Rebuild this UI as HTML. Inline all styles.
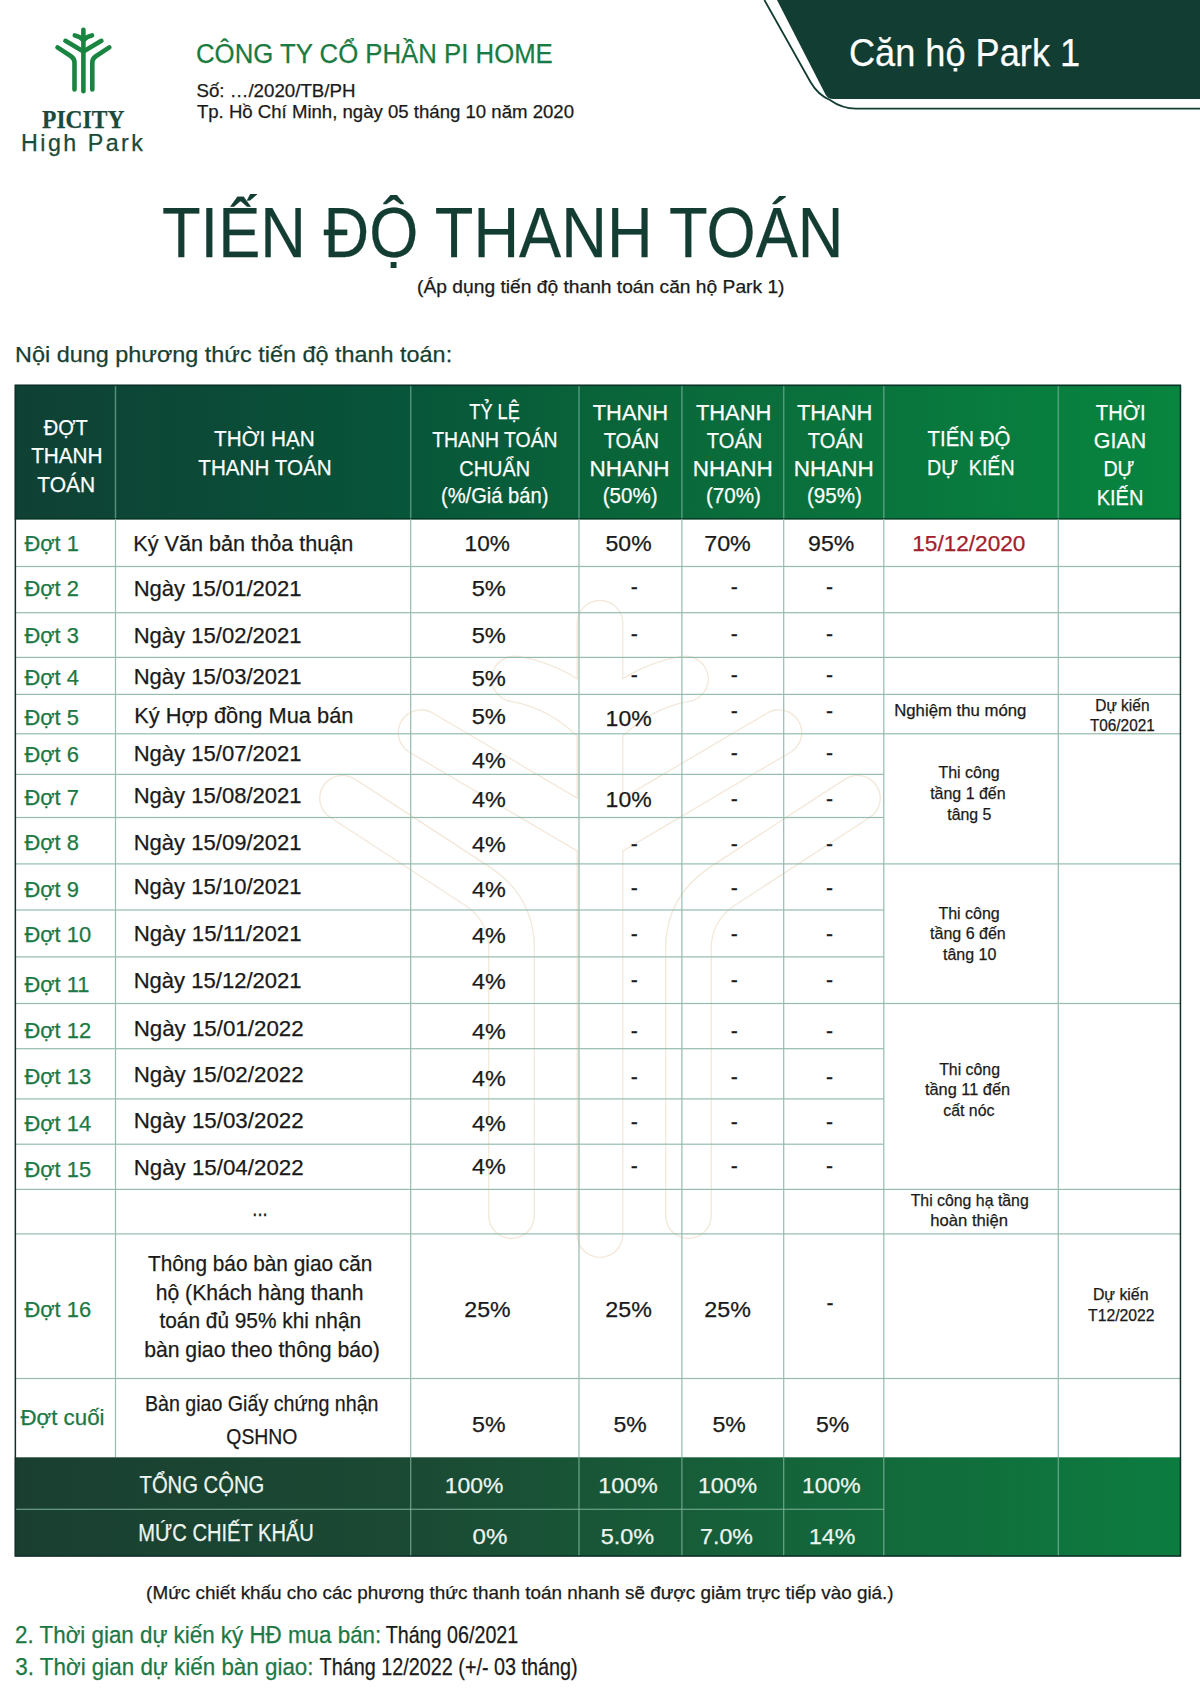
<!DOCTYPE html>
<html lang="vi"><head><meta charset="utf-8"><title>Tiến độ thanh toán - Căn hộ Park 1</title>
<style>
html,body{margin:0;padding:0;background:#fff;}
body{width:1200px;height:1696px;overflow:hidden;}
svg{display:block;}
text{font-family:"Liberation Sans", sans-serif;}
</style></head><body>
<svg width="1200" height="1696" viewBox="0 0 1200 1696">
<defs>
<linearGradient id="gh" x1="15" y1="0" x2="1181" y2="0" gradientUnits="userSpaceOnUse">
<stop offset="0" stop-color="#0f4134"/><stop offset="0.1" stop-color="#0d4636"/><stop offset="0.33" stop-color="#07553a"/><stop offset="0.5" stop-color="#096439"/><stop offset="0.66" stop-color="#0a6f3c"/><stop offset="0.85" stop-color="#087c3e"/><stop offset="1" stop-color="#08853f"/>
</linearGradient>
<linearGradient id="gf" x1="15" y1="0" x2="1181" y2="0" gradientUnits="userSpaceOnUse">
<stop offset="0" stop-color="#1a3f31"/><stop offset="0.35" stop-color="#1b4a34"/><stop offset="0.65" stop-color="#15633a"/><stop offset="1" stop-color="#0c7c3f"/>
</linearGradient>
</defs>
<rect width="1200" height="1696" fill="#ffffff"/>
<!-- watermark -->
<g transform="translate(-229.0,327.05) scale(9.94)" fill="none" stroke-linecap="round" stroke-linejoin="round">
<g stroke="#f3e8da" stroke-width="4.72"><path d="M83.4,29.8 L83.4,91.3"/><path d="M74.8,35.4 Q79.6,36.2 83.4,40.2 Q87.2,36.2 92,35.4"/><path d="M65.4,40.8 L83.4,51.4 L101.4,40.8"/><path d="M57.5,47.4 L71,56.2 Q74.5,58.5 74.5,62.5 L74.5,89.4"/><path d="M109.3,47.4 L95.8,56.2 Q92.3,58.5 92.3,62.5 L92.3,89.4"/></g>
<g stroke="#ffffff" stroke-width="4.45"><path d="M83.4,29.8 L83.4,91.3"/><path d="M74.8,35.4 Q79.6,36.2 83.4,40.2 Q87.2,36.2 92,35.4"/><path d="M65.4,40.8 L83.4,51.4 L101.4,40.8"/><path d="M57.5,47.4 L71,56.2 Q74.5,58.5 74.5,62.5 L74.5,89.4"/><path d="M109.3,47.4 L95.8,56.2 Q92.3,58.5 92.3,62.5 L92.3,89.4"/></g>
</g>
<!-- top-right badge -->
<path d="M764.4,0 L810.5,82 Q818,95 830,100 Q842,108.6 856,108.6 L1200,108.6" fill="none" stroke="#123d33" stroke-width="1.8"/>
<path d="M777,0 L1200,0 L1200,99 L833,99 Q828,99 825.5,94.5 Z" fill="#123d33"/>
<!-- logo -->
<g fill="none" stroke="#1a8441" stroke-width="4.6" stroke-linecap="round" stroke-linejoin="round"><path d="M83.4,29.8 L83.4,91.3"/><path d="M74.8,35.4 Q79.6,36.2 83.4,40.2 Q87.2,36.2 92,35.4"/><path d="M65.4,40.8 L83.4,51.4 L101.4,40.8"/><path d="M57.5,47.4 L71,56.2 Q74.5,58.5 74.5,62.5 L74.5,89.4"/><path d="M109.3,47.4 L95.8,56.2 Q92.3,58.5 92.3,62.5 L92.3,89.4"/></g>
<!-- table header -->
<rect x="14.75" y="384.75" width="1166.3" height="134.5" fill="url(#gh)"/>
<rect x="114.75" y="385.5" width="1.5" height="133" fill="#6aa892" fill-opacity="0.75"/><rect x="409.95" y="385.5" width="1.5" height="133" fill="#6aa892" fill-opacity="0.75"/><rect x="578.25" y="385.5" width="1.5" height="133" fill="#6aa892" fill-opacity="0.75"/><rect x="681.15" y="385.5" width="1.5" height="133" fill="#6aa892" fill-opacity="0.75"/><rect x="782.95" y="385.5" width="1.5" height="133" fill="#6aa892" fill-opacity="0.75"/><rect x="883.05" y="385.5" width="1.5" height="133" fill="#6aa892" fill-opacity="0.75"/><rect x="1057.55" y="385.5" width="1.5" height="133" fill="#6aa892" fill-opacity="0.75"/>
<rect x="14.75" y="518.3" width="1166.3" height="1.2" fill="#05301f"/>
<!-- grid -->
<rect x="15.25" y="565.90" width="1165.05" height="1.2" fill="#95bcae"/><rect x="15.25" y="612.10" width="1165.05" height="1.2" fill="#95bcae"/><rect x="15.25" y="656.80" width="1165.05" height="1.2" fill="#95bcae"/><rect x="15.25" y="693.80" width="1165.05" height="1.2" fill="#95bcae"/><rect x="15.25" y="733.20" width="1165.05" height="1.2" fill="#95bcae"/><rect x="15.25" y="773.80" width="868.55" height="1.2" fill="#95bcae"/><rect x="15.25" y="816.90" width="868.55" height="1.2" fill="#95bcae"/><rect x="15.25" y="863.30" width="1165.05" height="1.2" fill="#95bcae"/><rect x="15.25" y="909.40" width="868.55" height="1.2" fill="#95bcae"/><rect x="15.25" y="956.30" width="868.55" height="1.2" fill="#95bcae"/><rect x="15.25" y="1002.90" width="1165.05" height="1.2" fill="#95bcae"/><rect x="15.25" y="1048.10" width="868.55" height="1.2" fill="#95bcae"/><rect x="15.25" y="1098.30" width="868.55" height="1.2" fill="#95bcae"/><rect x="15.25" y="1143.60" width="868.55" height="1.2" fill="#95bcae"/><rect x="15.25" y="1188.80" width="1165.05" height="1.2" fill="#95bcae"/><rect x="15.25" y="1233.30" width="1165.05" height="1.2" fill="#95bcae"/><rect x="15.25" y="1377.90" width="1165.05" height="1.2" fill="#95bcae"/><rect x="114.90" y="519" width="1.2" height="938.30" fill="#95bcae"/><rect x="410.10" y="519" width="1.2" height="938.30" fill="#95bcae"/><rect x="578.40" y="519" width="1.2" height="938.30" fill="#95bcae"/><rect x="681.30" y="519" width="1.2" height="938.30" fill="#95bcae"/><rect x="783.10" y="519" width="1.2" height="938.30" fill="#95bcae"/><rect x="883.20" y="519" width="1.2" height="938.30" fill="#95bcae"/><rect x="1057.70" y="519" width="1.2" height="938.30" fill="#95bcae"/>
<!-- footer -->
<rect x="14.75" y="1457.3" width="1166.3" height="99.2" fill="url(#gf)"/>
<rect x="410.10" y="1457.3" width="1.2" height="99" fill="#7fb59e" fill-opacity="0.8"/><rect x="578.40" y="1457.3" width="1.2" height="99" fill="#7fb59e" fill-opacity="0.8"/><rect x="681.30" y="1457.3" width="1.2" height="99" fill="#7fb59e" fill-opacity="0.8"/><rect x="783.10" y="1457.3" width="1.2" height="99" fill="#7fb59e" fill-opacity="0.8"/><rect x="883.20" y="1457.3" width="1.2" height="99" fill="#7fb59e" fill-opacity="0.8"/><rect x="1057.70" y="1457.3" width="1.2" height="99" fill="#7fb59e" fill-opacity="0.8"/><rect x="15.25" y="1508.7" width="868.55" height="1.2" fill="#7fb59e" fill-opacity="0.8"/>
<!-- outer border -->
<rect x="15.35" y="385.35" width="1165.1" height="1170.6" fill="none" stroke="#10302a" stroke-width="1.5"/>
<!-- texts -->
<g font-family="'Liberation Sans', sans-serif" stroke-width="0.25">
<text x="196.00" y="63.30" fill="#1a7b40" stroke="#1a7b40" style="font-size:27.62px" textLength="356.81" lengthAdjust="spacingAndGlyphs">CÔNG TY CỔ PHẦN PI HOME</text>
<text x="196.45" y="96.70" fill="#1a1a1a" stroke="#1a1a1a" style="font-size:18.60px" textLength="159.08" lengthAdjust="spacingAndGlyphs">Số: …/2020/TB/PH</text>
<text x="196.88" y="117.50" fill="#1a1a1a" stroke="#1a1a1a" style="font-size:18.60px" textLength="377.14" lengthAdjust="spacingAndGlyphs">Tp. Hồ Chí Minh, ngày 05 tháng 10 năm 2020</text>
<text x="42.10" y="127.80" fill="#1b4a38" stroke="#1b4a38" style="font-size:24.13px;font-family:'Liberation Serif';font-weight:bold" textLength="82.35" lengthAdjust="spacingAndGlyphs">PICITY</text>
<text x="21.09" y="150.80" fill="#1b4a38" stroke="#1b4a38" style="font-size:23.26px;letter-spacing:2.47px">High Park</text>
<text x="848.96" y="66.20" fill="#ffffff" stroke="#ffffff" style="font-size:39.24px" textLength="231.20" lengthAdjust="spacingAndGlyphs">Căn hộ Park 1</text>
<text x="161.98" y="257.40" fill="#133d32" stroke="#133d32" style="font-size:71.22px" textLength="681.55" lengthAdjust="spacingAndGlyphs">TIẾN ĐỘ THANH TOÁN</text>
<text x="417.11" y="292.70" fill="#1a1a1a" stroke="#1a1a1a" style="font-size:17.44px" textLength="367.38" lengthAdjust="spacingAndGlyphs">(Áp dụng tiến độ thanh toán căn hộ Park 1)</text>
<text x="15.08" y="361.50" fill="#173f31" stroke="#173f31" style="font-size:22.53px" textLength="437.06" lengthAdjust="spacingAndGlyphs">Nội dung phương thức tiến độ thanh toán:</text>
<text x="43.76" y="435.00" fill="#ffffff" stroke="#ffffff" style="font-size:22.67px" textLength="44.00" lengthAdjust="spacingAndGlyphs">ĐỢT</text>
<text x="31.13" y="463.40" fill="#ffffff" stroke="#ffffff" style="font-size:22.67px" textLength="71.46" lengthAdjust="spacingAndGlyphs">THANH</text>
<text x="37.23" y="491.90" fill="#ffffff" stroke="#ffffff" style="font-size:22.67px" textLength="57.88" lengthAdjust="spacingAndGlyphs">TOÁN</text>
<text x="214.03" y="446.25" fill="#ffffff" stroke="#ffffff" style="font-size:22.67px" textLength="100.66" lengthAdjust="spacingAndGlyphs">THỜI HẠN</text>
<text x="198.29" y="474.50" fill="#ffffff" stroke="#ffffff" style="font-size:22.67px" textLength="133.39" lengthAdjust="spacingAndGlyphs">THANH TOÁN</text>
<text x="469.29" y="419.00" fill="#ffffff" stroke="#ffffff" style="font-size:22.67px" textLength="50.49" lengthAdjust="spacingAndGlyphs">TỶ LỆ</text>
<text x="432.27" y="447.30" fill="#ffffff" stroke="#ffffff" style="font-size:22.67px" textLength="125.31" lengthAdjust="spacingAndGlyphs">THANH TOÁN</text>
<text x="459.29" y="476.20" fill="#ffffff" stroke="#ffffff" style="font-size:22.67px" textLength="70.73" lengthAdjust="spacingAndGlyphs">CHUẨN</text>
<text x="440.95" y="503.00" fill="#ffffff" stroke="#ffffff" style="font-size:22.67px" textLength="107.50" lengthAdjust="spacingAndGlyphs">(%/Giá bán)</text>
<text x="592.71" y="420.00" fill="#ffffff" stroke="#ffffff" style="font-size:22.67px" textLength="75.48" lengthAdjust="spacingAndGlyphs">THANH</text>
<text x="603.65" y="447.80" fill="#ffffff" stroke="#ffffff" style="font-size:22.67px" textLength="55.49" lengthAdjust="spacingAndGlyphs">TOÁN</text>
<text x="589.55" y="476.40" fill="#ffffff" stroke="#ffffff" style="font-size:22.67px" textLength="79.98" lengthAdjust="spacingAndGlyphs">NHANH</text>
<text x="602.72" y="503.00" fill="#ffffff" stroke="#ffffff" style="font-size:22.67px" textLength="54.85" lengthAdjust="spacingAndGlyphs">(50%)</text>
<text x="695.91" y="420.00" fill="#ffffff" stroke="#ffffff" style="font-size:22.67px" textLength="75.48" lengthAdjust="spacingAndGlyphs">THANH</text>
<text x="706.85" y="447.80" fill="#ffffff" stroke="#ffffff" style="font-size:22.67px" textLength="55.49" lengthAdjust="spacingAndGlyphs">TOÁN</text>
<text x="692.75" y="476.40" fill="#ffffff" stroke="#ffffff" style="font-size:22.67px" textLength="79.98" lengthAdjust="spacingAndGlyphs">NHANH</text>
<text x="705.92" y="503.00" fill="#ffffff" stroke="#ffffff" style="font-size:22.67px" textLength="54.85" lengthAdjust="spacingAndGlyphs">(70%)</text>
<text x="796.91" y="420.00" fill="#ffffff" stroke="#ffffff" style="font-size:22.67px" textLength="75.48" lengthAdjust="spacingAndGlyphs">THANH</text>
<text x="807.85" y="447.80" fill="#ffffff" stroke="#ffffff" style="font-size:22.67px" textLength="55.49" lengthAdjust="spacingAndGlyphs">TOÁN</text>
<text x="793.75" y="476.40" fill="#ffffff" stroke="#ffffff" style="font-size:22.67px" textLength="79.98" lengthAdjust="spacingAndGlyphs">NHANH</text>
<text x="806.92" y="503.00" fill="#ffffff" stroke="#ffffff" style="font-size:22.67px" textLength="54.85" lengthAdjust="spacingAndGlyphs">(95%)</text>
<text x="927.54" y="446.30" fill="#ffffff" stroke="#ffffff" style="font-size:22.67px" textLength="82.84" lengthAdjust="spacingAndGlyphs">TIẾN ĐỘ</text>
<text xml:space="preserve" x="927.09" y="474.80" fill="#ffffff" stroke="#ffffff" style="font-size:22.67px" textLength="87.51" lengthAdjust="spacingAndGlyphs">DỰ  KIẾN</text>
<text x="1095.85" y="419.50" fill="#ffffff" stroke="#ffffff" style="font-size:22.67px" textLength="49.71" lengthAdjust="spacingAndGlyphs">THỜI</text>
<text x="1093.82" y="448.00" fill="#ffffff" stroke="#ffffff" style="font-size:22.67px" textLength="52.32" lengthAdjust="spacingAndGlyphs">GIAN</text>
<text x="1103.38" y="476.40" fill="#ffffff" stroke="#ffffff" style="font-size:22.67px" textLength="31.03" lengthAdjust="spacingAndGlyphs">DỰ</text>
<text x="1096.66" y="504.90" fill="#ffffff" stroke="#ffffff" style="font-size:22.67px" textLength="46.67" lengthAdjust="spacingAndGlyphs">KIẾN</text>
<text x="24.45" y="550.70" fill="#1c7844" stroke="#1c7844" style="font-size:22.24px" textLength="54.49" lengthAdjust="spacingAndGlyphs">Đợt 1</text>
<text x="24.45" y="596.20" fill="#1c7844" stroke="#1c7844" style="font-size:22.24px" textLength="54.49" lengthAdjust="spacingAndGlyphs">Đợt 2</text>
<text x="24.45" y="642.80" fill="#1c7844" stroke="#1c7844" style="font-size:22.24px" textLength="54.49" lengthAdjust="spacingAndGlyphs">Đợt 3</text>
<text x="24.45" y="685.40" fill="#1c7844" stroke="#1c7844" style="font-size:22.24px" textLength="54.49" lengthAdjust="spacingAndGlyphs">Đợt 4</text>
<text x="24.45" y="724.50" fill="#1c7844" stroke="#1c7844" style="font-size:22.24px" textLength="54.49" lengthAdjust="spacingAndGlyphs">Đợt 5</text>
<text x="24.45" y="762.00" fill="#1c7844" stroke="#1c7844" style="font-size:22.24px" textLength="54.49" lengthAdjust="spacingAndGlyphs">Đợt 6</text>
<text x="24.45" y="805.00" fill="#1c7844" stroke="#1c7844" style="font-size:22.24px" textLength="54.49" lengthAdjust="spacingAndGlyphs">Đợt 7</text>
<text x="24.45" y="849.80" fill="#1c7844" stroke="#1c7844" style="font-size:22.24px" textLength="54.49" lengthAdjust="spacingAndGlyphs">Đợt 8</text>
<text x="24.45" y="896.60" fill="#1c7844" stroke="#1c7844" style="font-size:22.24px" textLength="54.49" lengthAdjust="spacingAndGlyphs">Đợt 9</text>
<text x="24.45" y="941.90" fill="#1c7844" stroke="#1c7844" style="font-size:22.24px" textLength="66.66" lengthAdjust="spacingAndGlyphs">Đợt 10</text>
<text x="24.45" y="991.80" fill="#1c7844" stroke="#1c7844" style="font-size:22.24px" textLength="65.04" lengthAdjust="spacingAndGlyphs">Đợt 11</text>
<text x="24.45" y="1037.80" fill="#1c7844" stroke="#1c7844" style="font-size:22.24px" textLength="66.66" lengthAdjust="spacingAndGlyphs">Đợt 12</text>
<text x="24.45" y="1083.70" fill="#1c7844" stroke="#1c7844" style="font-size:22.24px" textLength="66.66" lengthAdjust="spacingAndGlyphs">Đợt 13</text>
<text x="24.45" y="1130.70" fill="#1c7844" stroke="#1c7844" style="font-size:22.24px" textLength="66.66" lengthAdjust="spacingAndGlyphs">Đợt 14</text>
<text x="24.45" y="1177.10" fill="#1c7844" stroke="#1c7844" style="font-size:22.24px" textLength="66.66" lengthAdjust="spacingAndGlyphs">Đợt 15</text>
<text x="24.45" y="1316.70" fill="#1c7844" stroke="#1c7844" style="font-size:22.24px" textLength="66.66" lengthAdjust="spacingAndGlyphs">Đợt 16</text>
<text x="20.45" y="1425.40" fill="#1c7844" stroke="#1c7844" style="font-size:22.24px" textLength="84.06" lengthAdjust="spacingAndGlyphs">Đợt cuối</text>
<text x="133.22" y="551.25" fill="#1a1a1a" stroke="#1a1a1a" style="font-size:22.24px" textLength="220.18" lengthAdjust="spacingAndGlyphs">Ký Văn bản thỏa thuận</text>
<text x="133.69" y="596.25" fill="#1a1a1a" stroke="#1a1a1a" style="font-size:22.24px" textLength="167.89" lengthAdjust="spacingAndGlyphs">Ngày 15/01/2021</text>
<text x="133.69" y="642.50" fill="#1a1a1a" stroke="#1a1a1a" style="font-size:22.24px" textLength="167.89" lengthAdjust="spacingAndGlyphs">Ngày 15/02/2021</text>
<text x="133.69" y="684.25" fill="#1a1a1a" stroke="#1a1a1a" style="font-size:22.24px" textLength="167.89" lengthAdjust="spacingAndGlyphs">Ngày 15/03/2021</text>
<text x="134.21" y="723.00" fill="#1a1a1a" stroke="#1a1a1a" style="font-size:22.24px" textLength="219.21" lengthAdjust="spacingAndGlyphs">Ký Hợp đồng Mua bán</text>
<text x="133.69" y="761.25" fill="#1a1a1a" stroke="#1a1a1a" style="font-size:22.24px" textLength="167.89" lengthAdjust="spacingAndGlyphs">Ngày 15/07/2021</text>
<text x="133.69" y="802.50" fill="#1a1a1a" stroke="#1a1a1a" style="font-size:22.24px" textLength="167.89" lengthAdjust="spacingAndGlyphs">Ngày 15/08/2021</text>
<text x="133.69" y="850.00" fill="#1a1a1a" stroke="#1a1a1a" style="font-size:22.24px" textLength="167.89" lengthAdjust="spacingAndGlyphs">Ngày 15/09/2021</text>
<text x="133.69" y="893.75" fill="#1a1a1a" stroke="#1a1a1a" style="font-size:22.24px" textLength="167.89" lengthAdjust="spacingAndGlyphs">Ngày 15/10/2021</text>
<text x="133.67" y="941.25" fill="#1a1a1a" stroke="#1a1a1a" style="font-size:22.24px" textLength="167.92" lengthAdjust="spacingAndGlyphs">Ngày 15/11/2021</text>
<text x="133.69" y="988.00" fill="#1a1a1a" stroke="#1a1a1a" style="font-size:22.24px" textLength="167.89" lengthAdjust="spacingAndGlyphs">Ngày 15/12/2021</text>
<text x="133.67" y="1035.50" fill="#1a1a1a" stroke="#1a1a1a" style="font-size:22.24px" textLength="169.96" lengthAdjust="spacingAndGlyphs">Ngày 15/01/2022</text>
<text x="133.67" y="1082.00" fill="#1a1a1a" stroke="#1a1a1a" style="font-size:22.24px" textLength="169.96" lengthAdjust="spacingAndGlyphs">Ngày 15/02/2022</text>
<text x="133.67" y="1128.00" fill="#1a1a1a" stroke="#1a1a1a" style="font-size:22.24px" textLength="169.96" lengthAdjust="spacingAndGlyphs">Ngày 15/03/2022</text>
<text x="133.67" y="1174.50" fill="#1a1a1a" stroke="#1a1a1a" style="font-size:22.24px" textLength="169.96" lengthAdjust="spacingAndGlyphs">Ngày 15/04/2022</text>
<text x="252.31" y="1216.25" fill="#1a1a1a" stroke="#1a1a1a" style="font-size:22.24px" textLength="15.37" lengthAdjust="spacingAndGlyphs">...</text>
<text x="148.03" y="1271.25" fill="#1a1a1a" stroke="#1a1a1a" style="font-size:22.24px" textLength="224.32" lengthAdjust="spacingAndGlyphs">Thông báo bàn giao căn</text>
<text x="155.78" y="1299.50" fill="#1a1a1a" stroke="#1a1a1a" style="font-size:22.24px" textLength="207.84" lengthAdjust="spacingAndGlyphs">hộ (Khách hàng thanh</text>
<text x="159.43" y="1328.00" fill="#1a1a1a" stroke="#1a1a1a" style="font-size:22.24px" textLength="201.67" lengthAdjust="spacingAndGlyphs">toán đủ 95% khi nhận</text>
<text x="144.13" y="1357.00" fill="#1a1a1a" stroke="#1a1a1a" style="font-size:22.24px" textLength="235.68" lengthAdjust="spacingAndGlyphs">bàn giao theo thông báo)</text>
<text x="144.89" y="1411.25" fill="#1a1a1a" stroke="#1a1a1a" style="font-size:22.24px" textLength="233.64" lengthAdjust="spacingAndGlyphs">Bàn giao Giấy chứng nhận</text>
<text x="226.33" y="1443.75" fill="#1a1a1a" stroke="#1a1a1a" style="font-size:22.24px" textLength="71.10" lengthAdjust="spacingAndGlyphs">QSHNO</text>
<text x="464.58" y="550.80" fill="#1a1a1a" stroke="#1a1a1a" style="font-size:22.24px" textLength="45.23" lengthAdjust="spacingAndGlyphs">10%</text>
<text x="471.65" y="596.30" fill="#1a1a1a" stroke="#1a1a1a" style="font-size:22.24px" textLength="34.19" lengthAdjust="spacingAndGlyphs">5%</text>
<text x="471.65" y="643.30" fill="#1a1a1a" stroke="#1a1a1a" style="font-size:22.24px" textLength="34.19" lengthAdjust="spacingAndGlyphs">5%</text>
<text x="471.65" y="686.00" fill="#1a1a1a" stroke="#1a1a1a" style="font-size:22.24px" textLength="34.19" lengthAdjust="spacingAndGlyphs">5%</text>
<text x="471.65" y="723.50" fill="#1a1a1a" stroke="#1a1a1a" style="font-size:22.24px" textLength="34.19" lengthAdjust="spacingAndGlyphs">5%</text>
<text x="472.06" y="767.50" fill="#1a1a1a" stroke="#1a1a1a" style="font-size:22.24px" textLength="33.77" lengthAdjust="spacingAndGlyphs">4%</text>
<text x="472.06" y="807.00" fill="#1a1a1a" stroke="#1a1a1a" style="font-size:22.24px" textLength="33.77" lengthAdjust="spacingAndGlyphs">4%</text>
<text x="472.06" y="851.70" fill="#1a1a1a" stroke="#1a1a1a" style="font-size:22.24px" textLength="33.77" lengthAdjust="spacingAndGlyphs">4%</text>
<text x="472.06" y="896.70" fill="#1a1a1a" stroke="#1a1a1a" style="font-size:22.24px" textLength="33.77" lengthAdjust="spacingAndGlyphs">4%</text>
<text x="472.06" y="943.40" fill="#1a1a1a" stroke="#1a1a1a" style="font-size:22.24px" textLength="33.77" lengthAdjust="spacingAndGlyphs">4%</text>
<text x="472.06" y="988.70" fill="#1a1a1a" stroke="#1a1a1a" style="font-size:22.24px" textLength="33.77" lengthAdjust="spacingAndGlyphs">4%</text>
<text x="472.06" y="1038.90" fill="#1a1a1a" stroke="#1a1a1a" style="font-size:22.24px" textLength="33.77" lengthAdjust="spacingAndGlyphs">4%</text>
<text x="472.06" y="1085.50" fill="#1a1a1a" stroke="#1a1a1a" style="font-size:22.24px" textLength="33.77" lengthAdjust="spacingAndGlyphs">4%</text>
<text x="472.06" y="1131.00" fill="#1a1a1a" stroke="#1a1a1a" style="font-size:22.24px" textLength="33.77" lengthAdjust="spacingAndGlyphs">4%</text>
<text x="472.06" y="1174.40" fill="#1a1a1a" stroke="#1a1a1a" style="font-size:22.24px" textLength="33.77" lengthAdjust="spacingAndGlyphs">4%</text>
<text x="464.34" y="1317.00" fill="#1a1a1a" stroke="#1a1a1a" style="font-size:22.24px" textLength="46.29" lengthAdjust="spacingAndGlyphs">25%</text>
<text x="472.07" y="1431.60" fill="#1a1a1a" stroke="#1a1a1a" style="font-size:22.24px" textLength="33.45" lengthAdjust="spacingAndGlyphs">5%</text>
<text x="605.58" y="550.80" fill="#1a1a1a" stroke="#1a1a1a" style="font-size:22.24px" textLength="46.04" lengthAdjust="spacingAndGlyphs">50%</text>
<text x="704.20" y="550.80" fill="#1a1a1a" stroke="#1a1a1a" style="font-size:22.24px" textLength="46.63" lengthAdjust="spacingAndGlyphs">70%</text>
<text x="808.12" y="550.80" fill="#1a1a1a" stroke="#1a1a1a" style="font-size:22.24px" textLength="46.21" lengthAdjust="spacingAndGlyphs">95%</text>
<text x="630.79" y="594.31" fill="#1a1a1a" stroke="#1a1a1a" style="font-size:22.24px" textLength="7.03" lengthAdjust="spacingAndGlyphs">-</text>
<text x="730.79" y="594.31" fill="#1a1a1a" stroke="#1a1a1a" style="font-size:22.24px" textLength="7.03" lengthAdjust="spacingAndGlyphs">-</text>
<text x="825.89" y="594.31" fill="#1a1a1a" stroke="#1a1a1a" style="font-size:22.24px" textLength="7.03" lengthAdjust="spacingAndGlyphs">-</text>
<text x="630.79" y="641.31" fill="#1a1a1a" stroke="#1a1a1a" style="font-size:22.24px" textLength="7.03" lengthAdjust="spacingAndGlyphs">-</text>
<text x="730.79" y="641.31" fill="#1a1a1a" stroke="#1a1a1a" style="font-size:22.24px" textLength="7.03" lengthAdjust="spacingAndGlyphs">-</text>
<text x="825.89" y="641.31" fill="#1a1a1a" stroke="#1a1a1a" style="font-size:22.24px" textLength="7.03" lengthAdjust="spacingAndGlyphs">-</text>
<text x="630.79" y="681.91" fill="#1a1a1a" stroke="#1a1a1a" style="font-size:22.24px" textLength="7.03" lengthAdjust="spacingAndGlyphs">-</text>
<text x="730.79" y="681.91" fill="#1a1a1a" stroke="#1a1a1a" style="font-size:22.24px" textLength="7.03" lengthAdjust="spacingAndGlyphs">-</text>
<text x="825.89" y="681.91" fill="#1a1a1a" stroke="#1a1a1a" style="font-size:22.24px" textLength="7.03" lengthAdjust="spacingAndGlyphs">-</text>
<text x="730.79" y="717.61" fill="#1a1a1a" stroke="#1a1a1a" style="font-size:22.24px" textLength="7.03" lengthAdjust="spacingAndGlyphs">-</text>
<text x="825.89" y="717.61" fill="#1a1a1a" stroke="#1a1a1a" style="font-size:22.24px" textLength="7.03" lengthAdjust="spacingAndGlyphs">-</text>
<text x="730.79" y="760.41" fill="#1a1a1a" stroke="#1a1a1a" style="font-size:22.24px" textLength="7.03" lengthAdjust="spacingAndGlyphs">-</text>
<text x="825.89" y="760.41" fill="#1a1a1a" stroke="#1a1a1a" style="font-size:22.24px" textLength="7.03" lengthAdjust="spacingAndGlyphs">-</text>
<text x="730.79" y="805.91" fill="#1a1a1a" stroke="#1a1a1a" style="font-size:22.24px" textLength="7.03" lengthAdjust="spacingAndGlyphs">-</text>
<text x="825.89" y="805.91" fill="#1a1a1a" stroke="#1a1a1a" style="font-size:22.24px" textLength="7.03" lengthAdjust="spacingAndGlyphs">-</text>
<text x="630.79" y="850.51" fill="#1a1a1a" stroke="#1a1a1a" style="font-size:22.24px" textLength="7.03" lengthAdjust="spacingAndGlyphs">-</text>
<text x="730.79" y="850.51" fill="#1a1a1a" stroke="#1a1a1a" style="font-size:22.24px" textLength="7.03" lengthAdjust="spacingAndGlyphs">-</text>
<text x="825.89" y="850.51" fill="#1a1a1a" stroke="#1a1a1a" style="font-size:22.24px" textLength="7.03" lengthAdjust="spacingAndGlyphs">-</text>
<text x="630.79" y="894.91" fill="#1a1a1a" stroke="#1a1a1a" style="font-size:22.24px" textLength="7.03" lengthAdjust="spacingAndGlyphs">-</text>
<text x="730.79" y="894.91" fill="#1a1a1a" stroke="#1a1a1a" style="font-size:22.24px" textLength="7.03" lengthAdjust="spacingAndGlyphs">-</text>
<text x="825.89" y="894.91" fill="#1a1a1a" stroke="#1a1a1a" style="font-size:22.24px" textLength="7.03" lengthAdjust="spacingAndGlyphs">-</text>
<text x="630.79" y="941.41" fill="#1a1a1a" stroke="#1a1a1a" style="font-size:22.24px" textLength="7.03" lengthAdjust="spacingAndGlyphs">-</text>
<text x="730.79" y="941.41" fill="#1a1a1a" stroke="#1a1a1a" style="font-size:22.24px" textLength="7.03" lengthAdjust="spacingAndGlyphs">-</text>
<text x="825.89" y="941.41" fill="#1a1a1a" stroke="#1a1a1a" style="font-size:22.24px" textLength="7.03" lengthAdjust="spacingAndGlyphs">-</text>
<text x="630.79" y="986.71" fill="#1a1a1a" stroke="#1a1a1a" style="font-size:22.24px" textLength="7.03" lengthAdjust="spacingAndGlyphs">-</text>
<text x="730.79" y="986.71" fill="#1a1a1a" stroke="#1a1a1a" style="font-size:22.24px" textLength="7.03" lengthAdjust="spacingAndGlyphs">-</text>
<text x="825.89" y="986.71" fill="#1a1a1a" stroke="#1a1a1a" style="font-size:22.24px" textLength="7.03" lengthAdjust="spacingAndGlyphs">-</text>
<text x="630.79" y="1037.71" fill="#1a1a1a" stroke="#1a1a1a" style="font-size:22.24px" textLength="7.03" lengthAdjust="spacingAndGlyphs">-</text>
<text x="730.79" y="1037.71" fill="#1a1a1a" stroke="#1a1a1a" style="font-size:22.24px" textLength="7.03" lengthAdjust="spacingAndGlyphs">-</text>
<text x="825.89" y="1037.71" fill="#1a1a1a" stroke="#1a1a1a" style="font-size:22.24px" textLength="7.03" lengthAdjust="spacingAndGlyphs">-</text>
<text x="630.79" y="1083.51" fill="#1a1a1a" stroke="#1a1a1a" style="font-size:22.24px" textLength="7.03" lengthAdjust="spacingAndGlyphs">-</text>
<text x="730.79" y="1083.51" fill="#1a1a1a" stroke="#1a1a1a" style="font-size:22.24px" textLength="7.03" lengthAdjust="spacingAndGlyphs">-</text>
<text x="825.89" y="1083.51" fill="#1a1a1a" stroke="#1a1a1a" style="font-size:22.24px" textLength="7.03" lengthAdjust="spacingAndGlyphs">-</text>
<text x="630.79" y="1128.51" fill="#1a1a1a" stroke="#1a1a1a" style="font-size:22.24px" textLength="7.03" lengthAdjust="spacingAndGlyphs">-</text>
<text x="730.79" y="1128.51" fill="#1a1a1a" stroke="#1a1a1a" style="font-size:22.24px" textLength="7.03" lengthAdjust="spacingAndGlyphs">-</text>
<text x="825.89" y="1128.51" fill="#1a1a1a" stroke="#1a1a1a" style="font-size:22.24px" textLength="7.03" lengthAdjust="spacingAndGlyphs">-</text>
<text x="630.79" y="1173.21" fill="#1a1a1a" stroke="#1a1a1a" style="font-size:22.24px" textLength="7.03" lengthAdjust="spacingAndGlyphs">-</text>
<text x="730.79" y="1173.21" fill="#1a1a1a" stroke="#1a1a1a" style="font-size:22.24px" textLength="7.03" lengthAdjust="spacingAndGlyphs">-</text>
<text x="825.89" y="1173.21" fill="#1a1a1a" stroke="#1a1a1a" style="font-size:22.24px" textLength="7.03" lengthAdjust="spacingAndGlyphs">-</text>
<text x="605.64" y="725.50" fill="#1a1a1a" stroke="#1a1a1a" style="font-size:22.24px" textLength="46.08" lengthAdjust="spacingAndGlyphs">10%</text>
<text x="605.64" y="807.00" fill="#1a1a1a" stroke="#1a1a1a" style="font-size:22.24px" textLength="46.08" lengthAdjust="spacingAndGlyphs">10%</text>
<text x="605.33" y="1317.00" fill="#1a1a1a" stroke="#1a1a1a" style="font-size:22.24px" textLength="46.50" lengthAdjust="spacingAndGlyphs">25%</text>
<text x="704.33" y="1317.00" fill="#1a1a1a" stroke="#1a1a1a" style="font-size:22.24px" textLength="46.50" lengthAdjust="spacingAndGlyphs">25%</text>
<text x="826.49" y="1309.91" fill="#1a1a1a" stroke="#1a1a1a" style="font-size:22.24px" textLength="7.03" lengthAdjust="spacingAndGlyphs">-</text>
<text x="613.58" y="1431.60" fill="#1a1a1a" stroke="#1a1a1a" style="font-size:22.24px" textLength="33.24" lengthAdjust="spacingAndGlyphs">5%</text>
<text x="712.48" y="1431.60" fill="#1a1a1a" stroke="#1a1a1a" style="font-size:22.24px" textLength="33.35" lengthAdjust="spacingAndGlyphs">5%</text>
<text x="816.08" y="1431.60" fill="#1a1a1a" stroke="#1a1a1a" style="font-size:22.24px" textLength="33.24" lengthAdjust="spacingAndGlyphs">5%</text>
<text x="912.28" y="550.50" fill="#a3202e" stroke="#a3202e" style="font-size:22.09px" textLength="113.11" lengthAdjust="spacingAndGlyphs">15/12/2020</text>
<text x="894.23" y="716.25" fill="#1a1a1a" stroke="#1a1a1a" style="font-size:15.70px" textLength="132.10" lengthAdjust="spacingAndGlyphs">Nghiệm thu móng</text>
<text x="1095.23" y="711.25" fill="#1a1a1a" stroke="#1a1a1a" style="font-size:15.70px" textLength="54.28" lengthAdjust="spacingAndGlyphs">Dự kiến</text>
<text x="1089.91" y="731.25" fill="#1a1a1a" stroke="#1a1a1a" style="font-size:15.70px" textLength="64.84" lengthAdjust="spacingAndGlyphs">T06/2021</text>
<text x="938.39" y="778.40" fill="#1a1a1a" stroke="#1a1a1a" style="font-size:16.86px" textLength="61.39" lengthAdjust="spacingAndGlyphs">Thi công</text>
<text x="930.16" y="798.75" fill="#1a1a1a" stroke="#1a1a1a" style="font-size:16.86px" textLength="75.48" lengthAdjust="spacingAndGlyphs">tầng 1 đến</text>
<text x="947.26" y="819.60" fill="#1a1a1a" stroke="#1a1a1a" style="font-size:16.86px" textLength="44.21" lengthAdjust="spacingAndGlyphs">tâng 5</text>
<text x="938.39" y="918.75" fill="#1a1a1a" stroke="#1a1a1a" style="font-size:16.86px" textLength="61.39" lengthAdjust="spacingAndGlyphs">Thi công</text>
<text x="930.06" y="939.25" fill="#1a1a1a" stroke="#1a1a1a" style="font-size:16.86px" textLength="75.68" lengthAdjust="spacingAndGlyphs">tầng 6 đến</text>
<text x="943.01" y="959.50" fill="#1a1a1a" stroke="#1a1a1a" style="font-size:16.86px" textLength="53.37" lengthAdjust="spacingAndGlyphs">tâng 10</text>
<text x="939.14" y="1074.50" fill="#1a1a1a" stroke="#1a1a1a" style="font-size:16.86px" textLength="60.88" lengthAdjust="spacingAndGlyphs">Thi công</text>
<text x="925.00" y="1095.00" fill="#1a1a1a" stroke="#1a1a1a" style="font-size:16.86px" textLength="85.06" lengthAdjust="spacingAndGlyphs">tầng 11 đến</text>
<text x="943.33" y="1115.50" fill="#1a1a1a" stroke="#1a1a1a" style="font-size:16.86px" textLength="51.09" lengthAdjust="spacingAndGlyphs">cất nóc</text>
<text x="910.64" y="1205.50" fill="#1a1a1a" stroke="#1a1a1a" style="font-size:16.86px" textLength="118.13" lengthAdjust="spacingAndGlyphs">Thi công hạ tầng</text>
<text x="930.35" y="1225.75" fill="#1a1a1a" stroke="#1a1a1a" style="font-size:16.86px" textLength="77.73" lengthAdjust="spacingAndGlyphs">hoàn thiện</text>
<text x="1092.90" y="1300.40" fill="#1a1a1a" stroke="#1a1a1a" style="font-size:15.70px" textLength="55.64" lengthAdjust="spacingAndGlyphs">Dự kiến</text>
<text x="1088.05" y="1321.40" fill="#1a1a1a" stroke="#1a1a1a" style="font-size:15.70px" textLength="66.55" lengthAdjust="spacingAndGlyphs">T12/2022</text>
<text x="139.55" y="1493.30" fill="#eef5ef" stroke="#eef5ef" style="font-size:23.26px" textLength="124.66" lengthAdjust="spacingAndGlyphs">TỔNG CỘNG</text>
<text x="138.35" y="1540.70" fill="#eef5ef" stroke="#eef5ef" style="font-size:23.26px" textLength="175.50" lengthAdjust="spacingAndGlyphs">MỨC CHIẾT KHẤU</text>
<text x="444.75" y="1492.80" fill="#eef5ef" stroke="#eef5ef" style="font-size:22.24px" textLength="58.56" lengthAdjust="spacingAndGlyphs">100%</text>
<text x="472.56" y="1544.00" fill="#eef5ef" stroke="#eef5ef" style="font-size:22.24px" textLength="34.80" lengthAdjust="spacingAndGlyphs">0%</text>
<text x="598.22" y="1493.30" fill="#eef5ef" stroke="#eef5ef" style="font-size:22.24px" textLength="59.61" lengthAdjust="spacingAndGlyphs">100%</text>
<text x="697.94" y="1493.30" fill="#eef5ef" stroke="#eef5ef" style="font-size:22.24px" textLength="59.19" lengthAdjust="spacingAndGlyphs">100%</text>
<text x="801.95" y="1493.30" fill="#eef5ef" stroke="#eef5ef" style="font-size:22.24px" textLength="58.56" lengthAdjust="spacingAndGlyphs">100%</text>
<text x="600.66" y="1544.00" fill="#eef5ef" stroke="#eef5ef" style="font-size:22.24px" textLength="53.48" lengthAdjust="spacingAndGlyphs">5.0%</text>
<text x="700.11" y="1544.00" fill="#eef5ef" stroke="#eef5ef" style="font-size:22.24px" textLength="52.71" lengthAdjust="spacingAndGlyphs">7.0%</text>
<text x="808.94" y="1544.00" fill="#eef5ef" stroke="#eef5ef" style="font-size:22.24px" textLength="46.29" lengthAdjust="spacingAndGlyphs">14%</text>
<text x="146.13" y="1599.30" fill="#1a1a1a" stroke="#1a1a1a" style="font-size:18.31px" textLength="747.55" lengthAdjust="spacingAndGlyphs">(Mức chiết khấu cho các phương thức thanh toán nhanh sẽ được giảm trực tiếp vào giá.)</text>
<text x="15.08" y="1642.80" fill="#1c7844" stroke="#1c7844" style="font-size:23.11px" textLength="366.16" lengthAdjust="spacingAndGlyphs">2. Thời gian dự kiến ký HĐ mua bán:</text>
<text x="385.66" y="1642.80" fill="#1a1a1a" stroke="#1a1a1a" style="font-size:23.11px" textLength="132.61" lengthAdjust="spacingAndGlyphs">Tháng 06/2021</text>
<text x="15.35" y="1675.30" fill="#1c7844" stroke="#1c7844" style="font-size:23.11px" textLength="298.19" lengthAdjust="spacingAndGlyphs">3. Thời gian dự kiến bàn giao:</text>
<text x="319.56" y="1675.30" fill="#1a1a1a" stroke="#1a1a1a" style="font-size:23.11px" textLength="258.17" lengthAdjust="spacingAndGlyphs">Tháng 12/2022 (+/- 03 tháng)</text>
</g>
</svg>
</body></html>
